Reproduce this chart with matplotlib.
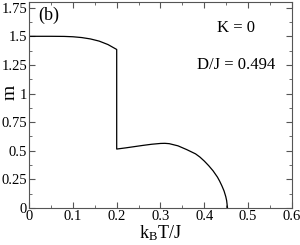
import matplotlib
matplotlib.use("Agg")
import matplotlib.pyplot as plt
from matplotlib.ticker import MultipleLocator

plt.rcParams["font.family"] = ["Liberation Serif", "DejaVu Serif"]
plt.rcParams["mathtext.fontset"] = "custom"
plt.rcParams["mathtext.rm"] = "Liberation Serif"
plt.rcParams["mathtext.it"] = "Liberation Serif"

# magnetization vs temperature (K = 0, D/J = 0.494)
temp = [0.0, 0.05, 0.08, 0.10, 0.12, 0.14, 0.16, 0.18, 0.20,
        0.20, 0.22, 0.24, 0.26, 0.28, 0.30, 0.31, 0.32, 0.34, 0.36,
        0.38, 0.39, 0.40, 0.41, 0.42, 0.43, 0.435, 0.44, 0.445, 0.449, 0.451, 0.453]
mag = [1.50, 1.50, 1.499, 1.496, 1.489, 1.477, 1.458, 1.428, 1.385,
       0.515, 0.525, 0.536, 0.547, 0.557, 0.564, 0.565, 0.562, 0.543, 0.51,
       0.473, 0.445, 0.41, 0.37, 0.325, 0.27, 0.235, 0.195, 0.15, 0.10, 0.065, 0.0]

x_ticks = [0, 0.1, 0.2, 0.3, 0.4, 0.5, 0.6]
x_labels = ["0", "0.1", "0.2", "0.3", "0.4", "0.5", "0.6"]
y_ticks = [0, 0.25, 0.5, 0.75, 1, 1.25, 1.5, 1.75]
y_labels = ["0", "0.25", "0.5", "0.75", "1", "1.25", "1.5", "1.75"]

fig = plt.figure(figsize=(3.0, 2.45), dpi=100)
ax = fig.add_axes([0.097, 0.151, 0.876, 0.841])
ax.plot(temp, mag, color="black", lw=0.9)

ax.set_xlim(0, 0.6)
ax.set_ylim(0, 1.8)
ax.set_xticks(x_ticks)
ax.set_xticklabels(x_labels)
ax.set_yticks(y_ticks)
ax.set_yticklabels(y_labels)
ax.xaxis.set_minor_locator(MultipleLocator(0.05))
ax.yaxis.set_minor_locator(MultipleLocator(0.125))
ax.tick_params(which="both", direction="in", top=True, right=True,
               labelsize=10.5, pad=1.5, color="#555555")
ax.tick_params(which="major", length=4)
ax.tick_params(which="minor", length=2)
for s in ax.spines.values():
    s.set_color("#555555")

ax.set_xlabel(r"k$_{\mathrm{B}}$T/J", fontsize=13, labelpad=0)
ax.set_ylabel("m", fontsize=14)
ax.yaxis.set_label_coords(-0.04, 0.56)

ax.text(0.02, 1.68, "(b)", fontsize=13, va="center")
ax.text(0.473, 1.57, "K = 0", fontsize=12, ha="center", va="center")
ax.text(0.473, 1.25, "D/J = 0.494", fontsize=12, ha="center", va="center")

fig.savefig("out.png", dpi=100)
